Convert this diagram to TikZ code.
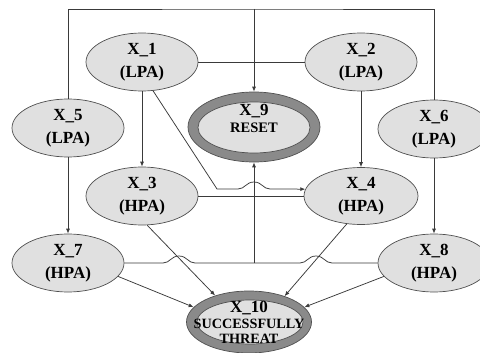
\documentclass[tikz,border=0pt]{standalone}
\usepackage{fontspec}
\setmainfont{Liberation Serif}
\usetikzlibrary{shapes.geometric,arrows.meta,calc}
\definecolor{nodefill}{HTML}{E0E0E0}
\definecolor{edgec}{HTML}{3A3A3A}
\definecolor{ringc}{HTML}{8A8A8A}
\definecolor{outl}{HTML}{505050}
\begin{document}
\begin{tikzpicture}[x=1pt,y=-1pt,
  state/.style={ellipse,draw=outl,line width=0.7pt,fill=nodefill,inner sep=0pt,
    minimum width=112pt,minimum height=58pt,align=center,
    font=\fontsize{17}{23}\selectfont\bfseries},
  ringout/.style={ellipse,draw=outl,line width=0.7pt,fill=ringc,inner sep=0pt},
  ringin/.style={ellipse,draw=outl,line width=0.7pt,fill=nodefill,inner sep=0pt},
  ringtext/.style={align=center,inner sep=0pt},
  conn/.style={draw=edgec,line width=0.75pt},
  arr/.style={conn,-{Latex[length=5pt,width=4pt]}}]
\useasboundingbox (0,0) rectangle (480,353);
\clip (0,0) rectangle (480,353);
\fill[white] (0,0) rectangle (480,353);

% nodes
\node[state] (x1) at (142,62) {X\_1\\(LPA)};
\node[state] (x2) at (361,62) {X\_2\\(LPA)};
\node[state] (x5) at (68,128) {X\_5\\(LPA)};
\node[state] (x6) at (434,129) {X\_6\\(LPA)};
\node[state] (x3) at (142,196) {X\_3\\(HPA)};
\node[state,minimum width=114pt,minimum height=57pt] (x4) at (361,196) {X\_4\\(HPA)};
\node[state] (x7) at (68,263) {X\_7\\(HPA)};
\node[state] (x8) at (434,263) {X\_8\\(HPA)};

\node[ringout,minimum width=132pt,minimum height=70pt] (x9) at (254,127) {};
\node[ringin,minimum width=112pt,minimum height=51pt] (x9in) at (254,127.5) {};
\node[ringtext,font=\bfseries\fontsize{17}{17}\selectfont] (x9t) at (254,118.5)
  {X\_9\\{\fontsize{14.5}{17}\selectfont RESET}};

\node[ringout,minimum width=125pt,minimum height=62pt] (x10) at (249,322) {};
\node[ringin,minimum width=106pt,minimum height=44pt] (x10in) at (250,322) {};
\node[ringtext,font=\bfseries\fontsize{17}{15.5}\selectfont] (x10t) at (249,322.5)
  {X\_10\\{\fontsize{14.2}{15.5}\selectfont SUCCESSFULLY}\\{\fontsize{14.2}{15.5}\selectfont THREAT}};

% top frame
\coordinate (top) at (254,9);
\draw[conn] (x5.north) |- (top) -| (x6.north);
\draw[arr] (top) -- (x9.north);

% straight links
\draw[conn] (x1.east) -- (x2.west);
\draw[arr] (x1) -- (x3);
\draw[arr] (x2) -- (x4);
\draw[arr] (x5) -- (x7);
\draw[arr] (x6) -- (x8);
\draw[conn] (x3.east) -- (x4.west);

% X_1 -> X_4 with jump
\coordinate (b1) at (217,189);
\coordinate (b2) at (238,189);
\draw[arr] (x1.291) -- (b1) -- (b2)
  .. controls (245,189) and (246,182) .. (254,182)
  .. controls (262,182) and (263,189) .. (270,189) -- (x4.173);

% X_7, X_8 -> X_9 merged, with jumps
\coordinate (j) at (254,263);
\draw[conn] (x7.east) -- (163,263)
  .. controls (170,263) and (171,256) .. (179,256)
  .. controls (187,256) and (188,263) .. (195,263) -- (j) -- (300,263)
  .. controls (307,263) and (308,256) .. (316,256)
  .. controls (324,256) and (325,263) .. (332,263) -- (x8.west);
\draw[arr] (j) -- (x9.south);

% to X_10
\draw[arr] (x3.280) -- (x10.142);
\draw[arr] (x7.-15) -- (x10.165);
\draw[arr] (x4.243) -- (x10.36);
\draw[arr] (x8.195) -- (x10.15);
\end{tikzpicture}
\end{document}
